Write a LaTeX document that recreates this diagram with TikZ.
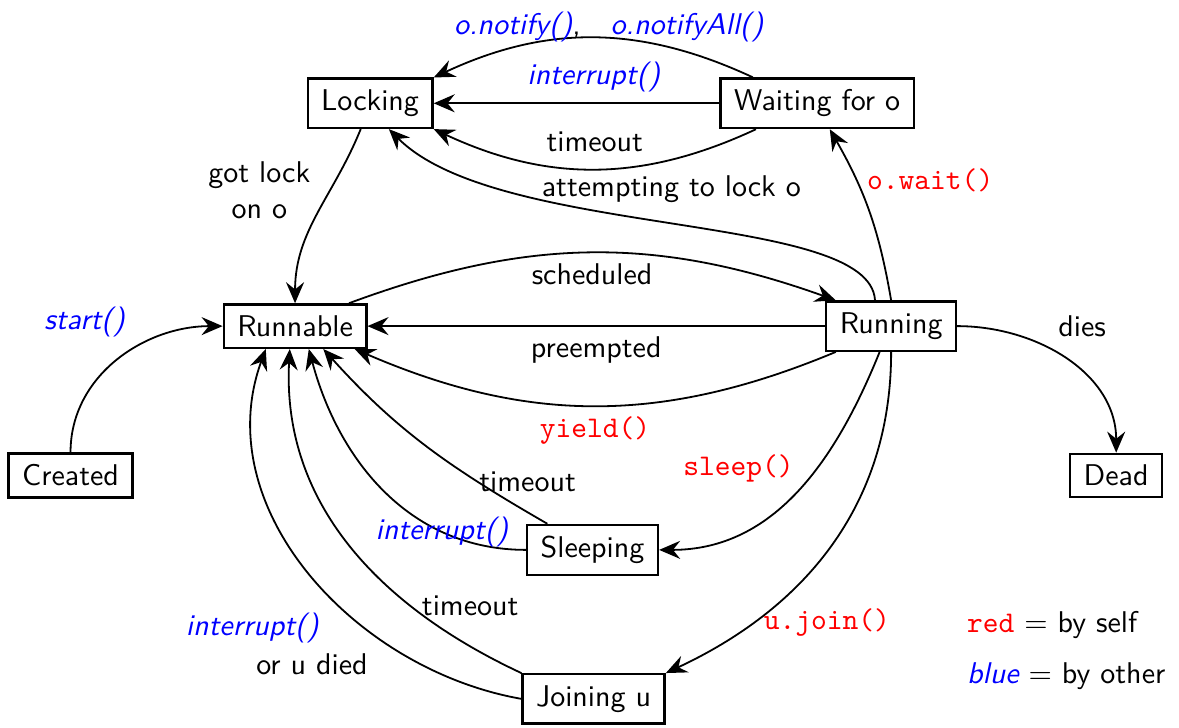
\documentclass[tikz,border=0pt]{standalone}
\usepackage{tikz}
\usetikzlibrary{arrows.meta}

\begin{document}
\begin{tikzpicture}[font=\sffamily, semithick,
  >={Stealth[length=7pt,width=6pt,inset=2.4pt]},
  stbox/.style={draw, thick, inner xsep=4.5pt, inner ysep=3.7pt},
  byself/.style={text=red, font=\ttfamily},
  byother/.style={text=blue, font=\sffamily\itshape}]

\useasboundingbox (0,0) rectangle (13.81,8.52);

\node[stbox] (locking) at (4.335,7.31) {Locking};
\node[stbox] (waiting) at (9.571,7.31) {Waiting for o};
\node[stbox] (runnable) at (3.456,4.70) {Runnable};
\node[stbox] (running) at (10.438,4.70) {Running};
\node[stbox] (created) at (0.826,2.95) {Created};
\node[stbox] (dead) at (13.074,2.95) {Dead};
\node[stbox] (sleeping) at (6.941,2.079) {Sleeping};
\node[stbox] (joining) at (6.953,0.334) {Joining u};

\draw[->] (waiting.158) to[bend right=25] node[pos=.45,above=-5pt]{\textcolor{blue}{\itshape o.notify()},\quad\textcolor{blue}{\itshape o.notifyAll()}} (locking.north east);
\draw[->] (waiting.west) -- node[pos=.44,above,byother]{interrupt()} (locking.east);
\draw[->] (waiting.203) to[bend left=25] node[above=2pt]{timeout} (locking.south east);
\draw[->] (running.122) .. controls +(-0.06,1.05) and +(1.29,-1.29) .. node[above=3pt]{attempting to lock o} (locking.-54);
\draw[->] (running.north) to[bend right=10] node[pos=.7,right,byself]{o.wait()} (waiting.-64);
\draw[->] (locking.250) to[out=-112,in=90] node[pos=.35,left=3pt,align=center]{got lock\\on o} (runnable.north);

\draw[->] (runnable.23) to[bend left=20] node[below]{scheduled} (running.155);
\draw[->] (running.west) -- node[below]{preempted} (runnable.east);
\draw[->] (running.205) to[bend left=23] node[below,byself]{yield()} (runnable.-21);
\draw[->] (created.north) to[out=90,in=180] node[pos=.6,above left,byother]{start()} (runnable.west);
\draw[->] (running.east) to[out=0,in=90] node[pos=.4,above right]{dies} (dead.north);

\draw[->] (running.-114) to[out=-112,in=0] node[pos=.4,left=4pt,byself]{sleep()} (sleeping.east);
\draw[->] (running.south) to[out=-90,in=25] node[pos=.77,right,byself]{u.join()} (joining.north east);

\draw[->] (sleeping.150) to[out=150,in=-48] node[pos=.27,right=-3pt]{timeout} (runnable.-39);
\draw[->] (sleeping.west) to[out=180,in=-75] node[pos=.27,byother]{interrupt()} (runnable.-59);
\draw[->] (joining.north west) to[out=155,in=-93] node[pos=.29,right]{timeout} (runnable.-103);
\draw[->] (joining.west) to[out=170,in=-110] node[pos=.21,left=14pt]{or u died} node[pos=.34,left=12pt,byother]{interrupt()} (runnable.-142);

\node[anchor=west] (legself) at (11.2,1.195) {\textcolor{red}{\ttfamily red} $=$ by self};
\node[anchor=west] (legother) at (11.2,0.597) {\textcolor{blue}{\itshape blue} $=$ by other};

\end{tikzpicture}
\end{document}
